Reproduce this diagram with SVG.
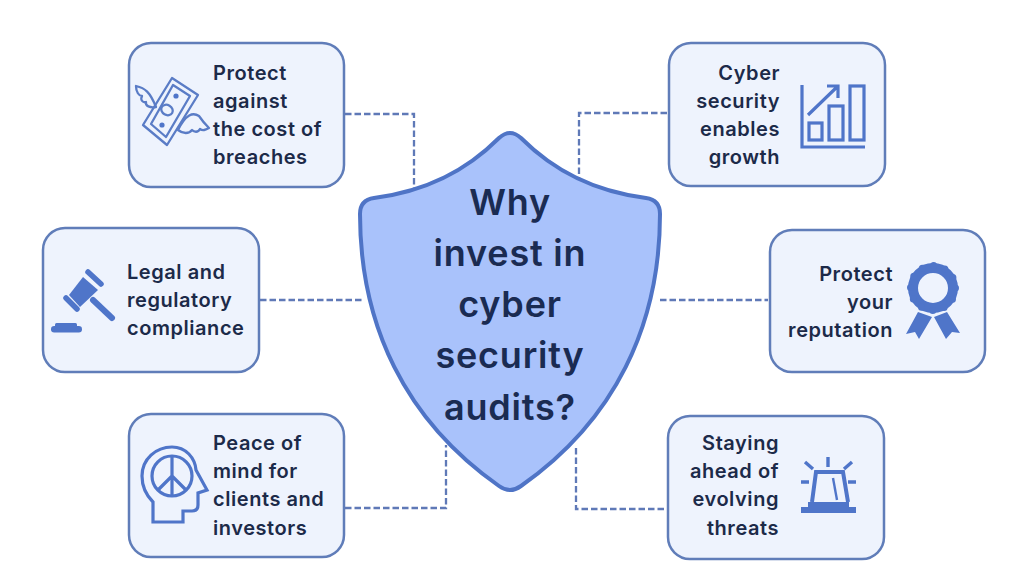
<svg xmlns="http://www.w3.org/2000/svg" width="1024" height="576" viewBox="0 0 1024 576">
<style>
.box{fill:#eef3fd;stroke:#607db9;stroke-width:2.5}
.t{font-family:"Inter","Liberation Sans",sans-serif;font-weight:600;font-size:20px;letter-spacing:.55px;fill:#1c2a49}
.e{text-anchor:end}
.h{font-family:"Inter","Liberation Sans",sans-serif;font-weight:600;font-size:36px;letter-spacing:.8px;fill:#1a2b52;text-anchor:middle}
.c{fill:none;stroke:#5f79b7;stroke-width:2.3;stroke-dasharray:6.5 3}
.i{fill:none;stroke:#5a7cc6;stroke-width:2.3;stroke-linejoin:round;stroke-linecap:round}
.j{fill:none;stroke:#4f75c9;stroke-width:3.2}
.f{fill:#4f75c9}
</style>
<rect width="1024" height="576" fill="#fff"/>
<g id="connectors">
<path class="c" d="M345 114H414V188"/>
<path class="c" d="M260 300H362"/>
<path class="c" d="M345 508H446V445"/>
<path class="c" d="M667 113H579V178"/>
<path class="c" d="M660 300H768"/>
<path class="c" d="M664 509H576V445"/>
</g>
<g id="shield">
<path d="M499 138Q510 128 521 138C553 170 592 191 646 198Q660 200 660 214C660 325 615 420 521 486Q510 494 499 486C405 420 360 325 360 214Q360 200 374 198C428 191 467 170 499 138Z" fill="#a9c2fb" stroke="#4f74c6" stroke-width="4"/>
<text class="h" x="510" y="215">Why</text>
<text class="h" x="510" y="266">invest in</text>
<text class="h" x="510" y="317">cyber</text>
<text class="h" x="510" y="368">security</text>
<text class="h" x="510" y="420">audits?</text>
</g>
<g id="node-breaches">
<rect class="box" x="129" y="43" width="215" height="144" rx="22"/>
<path class="i" d="M172 78L198 95L167 145L143 125Z"/>
<path class="i" d="M173 85L190 96L166 137L151 124Z"/>
<ellipse class="i" cx="167" cy="110" rx="6" ry="5" transform="rotate(30 167 110)"/>
<circle class="f" cx="176" cy="96" r="2.6"/>
<circle class="f" cx="162" cy="125" r="2.6"/>
<path class="i" d="M156 107C150 92 145 88 136 86C136 92 139 96 142 96C140 100 143 103 146 102C145 106 150 108 156 107Z"/>
<path class="i" d="M178 130C186 114 193 112 199 116C203 122 206 125 209 128C205 130 203 131 200 129C198 133 194 132 192 130C189 134 183 134 178 130Z"/>
<text class="t" x="213" y="80">Protect</text>
<text class="t" x="213" y="108">against</text>
<text class="t" x="213" y="136">the cost of</text>
<text class="t" x="213" y="164">breaches</text>
</g>
<g id="node-legal">
<rect class="box" x="43" y="228" width="216" height="144" rx="22"/>
<path class="f" d="M83 277L98 290L80 307L69 295Z"/>
<path d="M88 272L101 284M66 298L77 309" stroke="#4f75c9" stroke-width="5.5" stroke-linecap="round" fill="none"/>
<path d="M93 300L112 318" stroke="#4f75c9" stroke-width="6" stroke-linecap="round" fill="none"/>
<rect class="f" x="51" y="326" width="31" height="6.5" rx="3.2"/>
<rect class="f" x="55" y="323" width="22" height="5" rx="1.5"/>
<text class="t" x="127" y="279">Legal and</text>
<text class="t" x="127" y="307">regulatory</text>
<text class="t" x="127" y="335">compliance</text>
</g>
<g id="node-peace">
<rect class="box" x="129" y="414" width="215" height="143" rx="22"/>
<path class="j" d="M153 522V502C146 495 142 485 142 476C142 459 156 447 172 447C186 447 195 458 196 470L207 490L198 493V505Q198 511 192 511H183V522Z"/>
<circle class="j" cx="172" cy="476" r="20"/>
<path class="j" d="M172 456V496M172 476L158 490M172 476L186 490"/>
<text class="t" x="213" y="450">Peace of</text>
<text class="t" x="213" y="478">mind for</text>
<text class="t" x="213" y="506">clients and</text>
<text class="t" x="213" y="535">investors</text>
</g>
<g id="node-growth">
<rect class="box" x="669" y="43" width="216" height="143" rx="22"/>
<path class="j" d="M802 85V147H865"/>
<rect class="j" x="809" y="123" width="13" height="17"/>
<rect class="j" x="829" y="106" width="14" height="34"/>
<rect class="j" x="850" y="86" width="14" height="54"/>
<path class="j" d="M808 115L838 86M827 86H838V98"/>
<text class="t e" x="780" y="80">Cyber</text>
<text class="t e" x="780" y="108">security</text>
<text class="t e" x="780" y="136">enables</text>
<text class="t e" x="780" y="164">growth</text>
</g>
<g id="node-reputation">
<rect class="box" x="770" y="230" width="215" height="142" rx="22"/>
<path class="f" d="M918 312L932 317L919 339L915 332L906 334Z"/>
<path class="f" d="M934 317L947 312L960 333L952 332L946 339Z"/>
<circle cx="933" cy="288" r="20" fill="none" stroke="#4f75c9" stroke-width="10"/>
<circle cx="933" cy="288" r="22.5" fill="none" stroke="#4f75c9" stroke-width="7" stroke-linecap="round" stroke-dasharray="0 11.78"/>
<text class="t e" x="893" y="281">Protect</text>
<text class="t e" x="893" y="309">your</text>
<text class="t e" x="893" y="337">reputation</text>
</g>
<g id="node-threats">
<rect class="box" x="668" y="416" width="216" height="143" rx="22"/>
<rect class="f" x="801" y="507" width="55" height="6"/>
<rect class="f" x="808" y="502" width="41" height="5"/>
<path d="M812 502L816 472H843L848 502" fill="none" stroke="#4f75c9" stroke-width="4"/>
<path d="M833 478L837 500" stroke="#4f75c9" stroke-width="2.4" fill="none"/>
<path d="M828 457V467M805 462L813 469M852 462L844 469M801 482H809M848 482H856" stroke="#4f75c9" stroke-width="3.4" fill="none"/>
<text class="t e" x="779" y="450">Staying</text>
<text class="t e" x="779" y="478">ahead of</text>
<text class="t e" x="779" y="506">evolving</text>
<text class="t e" x="779" y="535">threats</text>
</g>
</svg>
